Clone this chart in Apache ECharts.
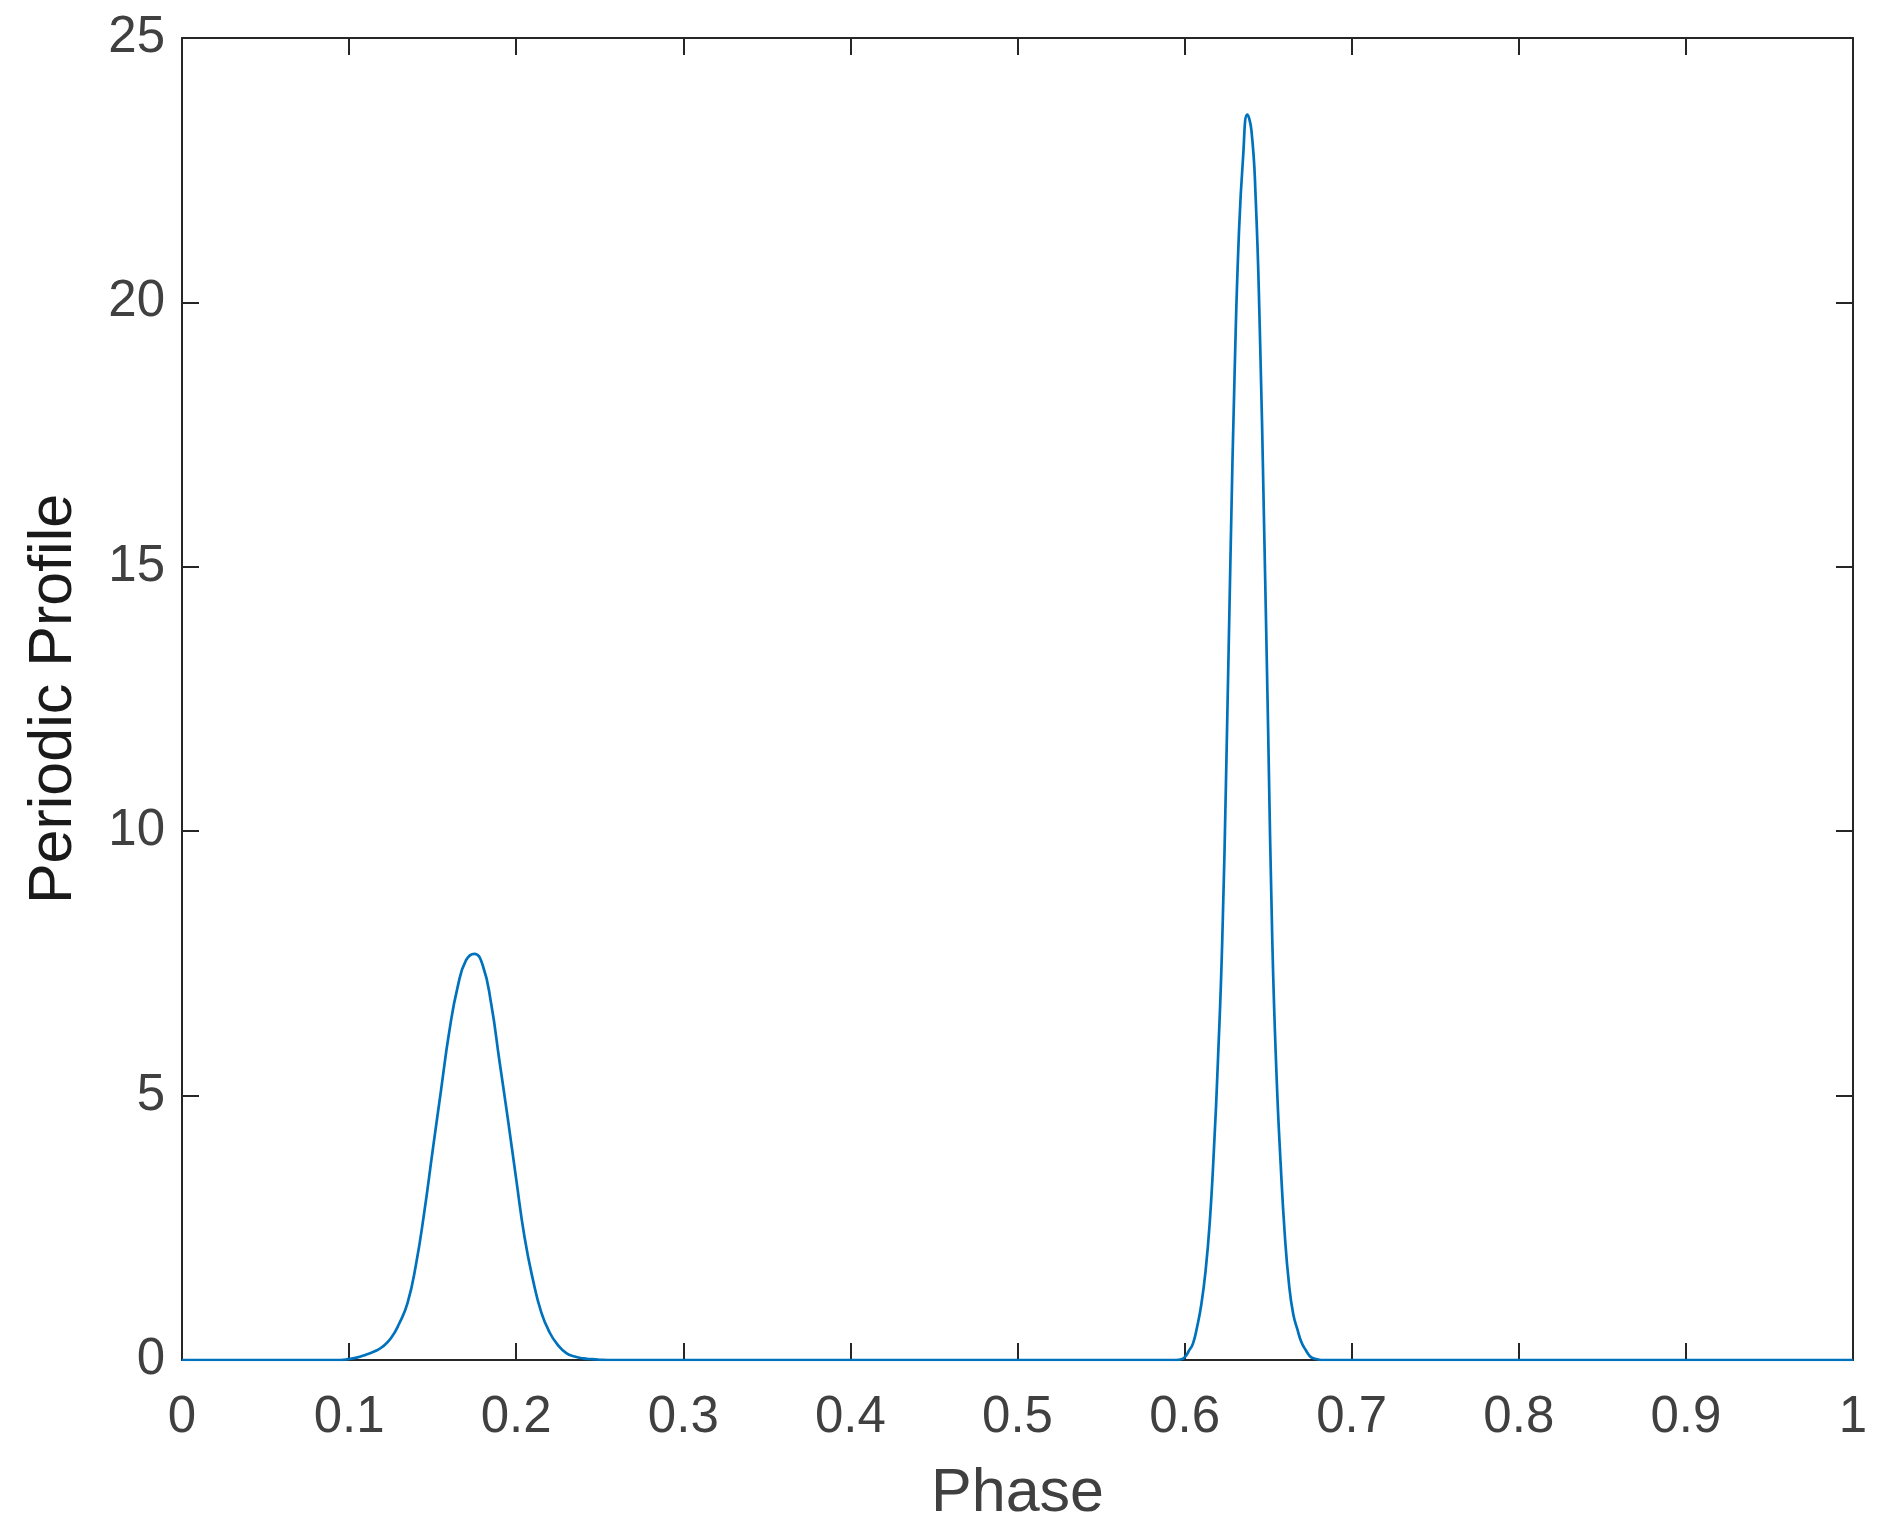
<!DOCTYPE html>
<html>
<head>
<meta charset="utf-8">
<script src="https://cdn.jsdelivr.net/npm/echarts@6/dist/echarts.min.js"></script>
<style>
html,body{margin:0;padding:0;background:#fff;}
#chart{width:1890px;height:1530px;}
</style>
</head>
<body>
<div id="chart"></div>
<script>
// Phase samples and profile values
const phase = [0, 0.090, 0.095,
  0.100, 0.105, 0.110, 0.115, 0.120, 0.125, 0.130, 0.135, 0.140, 0.145, 0.150, 0.155, 0.160, 0.165, 0.170,
  0.175, 0.180, 0.185, 0.190, 0.195, 0.200, 0.205, 0.210, 0.215, 0.220, 0.225, 0.230, 0.235, 0.240, 0.245, 0.250,
  0.255, 0.260, 0.590, 0.5925, 0.595, 0.5975,
  0.6000, 0.6025, 0.6050, 0.6075, 0.6100, 0.6125, 0.6150, 0.6175, 0.6200, 0.6225, 0.6250, 0.6275, 0.6300, 0.6325, 0.6350, 0.6375,
  0.6400, 0.6425, 0.6450, 0.6475, 0.6500, 0.6525, 0.6550, 0.6575, 0.6600, 0.6625, 0.6650, 0.6675, 0.6700, 0.6725, 0.6750, 0.6775, 0.6800,
  0.6825, 0.685, 1];
const profile = [0, 0, 0,
  0.02, 0.05, 0.10, 0.16, 0.25, 0.41, 0.69, 1.08, 1.80, 2.80, 3.96, 5.10, 6.22, 7.06, 7.56,
  7.68, 7.46, 6.74, 5.65, 4.56, 3.42, 2.32, 1.52, 0.90, 0.52, 0.28, 0.13, 0.066, 0.03, 0.015, 0.005,
  0, 0, 0, 0, 0, 0.01,
  0.05, 0.17, 0.31, 0.63, 1.05, 1.67, 2.58, 3.95, 5.70, 7.90, 11.30, 15.25, 18.75, 21.30, 22.75, 23.55,
  23.25, 22.00, 19.50, 15.90, 11.90, 7.90, 5.40, 3.70, 2.35, 1.43, 0.87, 0.58, 0.33, 0.19, 0.07, 0.03, 0.01,
  0, 0, 0];
const xTicks = [0, 0.1, 0.2, 0.3, 0.4, 0.5, 0.6, 0.7, 0.8, 0.9, 1];
const yTicks = [0, 5, 10, 15, 20, 25];

const FONT = 'Liberation Sans, Arial, Helvetica, sans-serif';
const AX = '#262626';
const TXT = '#404040';

const chart = echarts.init(document.getElementById('chart'));
const axisCommon = {
  axisLine: {show: true, onZero: false, lineStyle: {color: AX, width: 2}},
  axisTick: {show: true, inside: true, length: 17, lineStyle: {color: AX, width: 2}},
  splitLine: {show: false}
};
chart.setOption({
  animation: false,
  backgroundColor: '#fff',
  grid: {left: 182, right: 37, top: 38, bottom: 170, containLabel: false},
  xAxis: [
    Object.assign({
      type: 'value', min: xTicks[0], max: xTicks[xTicks.length - 1], interval: 0.1, position: 'bottom',
      name: 'Phase', nameLocation: 'middle', nameGap: 104,
      nameTextStyle: {fontFamily: FONT, fontSize: 61, color: TXT},
      axisLabel: {fontFamily: FONT, fontSize: 51, color: TXT, margin: 32}
    }, axisCommon),
    Object.assign({
      type: 'value', min: 0, max: 1, interval: 0.1, position: 'top',
      axisLabel: {show: false}
    }, axisCommon)
  ],
  yAxis: [
    Object.assign({
      type: 'value', min: yTicks[0], max: yTicks[yTicks.length - 1], interval: 5, position: 'left',
      name: 'Periodic Profile', nameLocation: 'middle', nameGap: 97, nameRotate: 90,
      nameTextStyle: {fontFamily: FONT, fontSize: 61, color: '#1a1a1a'},
      axisLabel: {fontFamily: FONT, fontSize: 51, color: TXT, margin: 17}
    }, axisCommon),
    Object.assign({
      type: 'value', min: 0, max: 25, interval: 5, position: 'right',
      axisLabel: {show: false}
    }, axisCommon)
  ],
  series: [{
    type: 'line',
    data: phase.map((p, i) => [p, profile[i]]),
    showSymbol: false,
    smooth: 0.5,
    lineStyle: {color: '#0072BD', width: 2.7},
    clip: true
  }]
});
</script>
</body>
</html>
